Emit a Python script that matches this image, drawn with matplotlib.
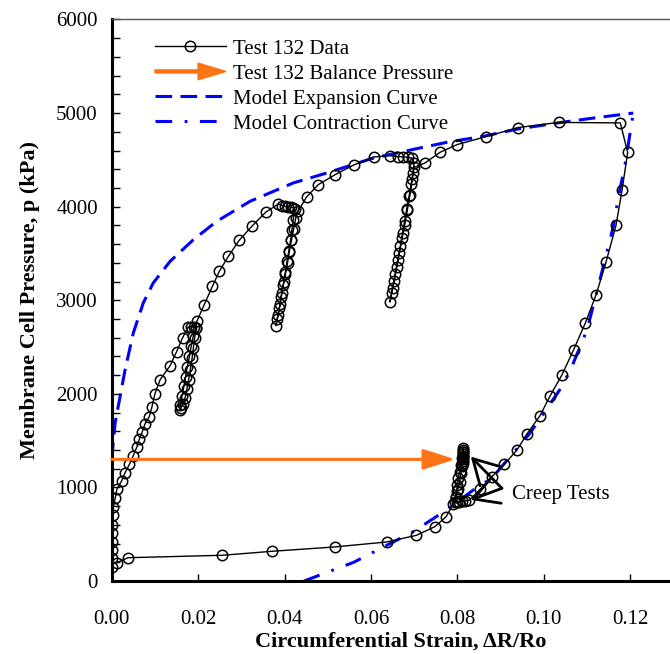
import matplotlib
matplotlib.use('Agg')
import matplotlib.pyplot as plt
from matplotlib.lines import Line2D
from matplotlib.patches import FancyArrow
from matplotlib.legend_handler import HandlerPatch
from matplotlib.ticker import MultipleLocator

# Test 132 membrane cell record, in the order it was logged
strain = [0.0000, 0.0000, 0.0000, 0.0000, 0.0001, 0.0001, 0.0002, 0.0004, 0.0008, 0.0012,
          0.0023, 0.0031, 0.0041, 0.0050, 0.0058, 0.0064, 0.0071, 0.0077, 0.0087, 0.0093,
          0.0100, 0.0112, 0.0135, 0.0150, 0.0164, 0.0177, 0.0183, 0.0190, 0.0195,
          0.0192, 0.0189, 0.0186, 0.0182, 0.0178, 0.0174, 0.0170, 0.0165, 0.0160, 0.0158,
          0.0159, 0.0163, 0.0167, 0.0171, 0.0175, 0.0180, 0.0184, 0.0189, 0.0194,
          0.0197, 0.0214, 0.0233, 0.0249, 0.0270, 0.0295, 0.0324, 0.0357,
          0.0386, 0.0395, 0.0402, 0.0409, 0.0415, 0.0420, 0.0424,
          0.0420, 0.0417, 0.0414, 0.0410, 0.0406, 0.0402, 0.0398, 0.0394, 0.0390, 0.0385, 0.0380,
          0.0383, 0.0388, 0.0392, 0.0397, 0.0402, 0.0407, 0.0411, 0.0416, 0.0421, 0.0426,
          0.0432, 0.0451, 0.0478, 0.0517, 0.0560, 0.0606, 0.0644,
          0.0662, 0.0674, 0.0685, 0.0695, 0.0700,
          0.0697, 0.0693, 0.0688, 0.0683, 0.0678, 0.0673, 0.0668, 0.0662, 0.0656, 0.0650, 0.0644,
          0.0648, 0.0654, 0.0660, 0.0666, 0.0672, 0.0678, 0.0684, 0.0690, 0.0696, 0.0700,
          0.0725, 0.0760, 0.0799, 0.0866, 0.0940, 0.1034, 0.1177,
          0.1194, 0.1181, 0.1167, 0.1144, 0.1121, 0.1096, 0.1069, 0.1042, 0.1015, 0.0991,
          0.0961, 0.0938, 0.0909, 0.0880, 0.0853, 0.0828,
          0.0818, 0.0810, 0.0803, 0.0798, 0.0795,
          0.0796, 0.0798, 0.0800, 0.0802, 0.0805, 0.0808, 0.0810, 0.0812, 0.0814,
          0.0814, 0.0814, 0.0813, 0.0813, 0.0813, 0.0812, 0.0812, 0.0812, 0.0811, 0.0811,
          0.0808, 0.0805, 0.0801, 0.0797, 0.0790,
          0.0774, 0.0748, 0.0705, 0.0636, 0.0516, 0.0372, 0.0256, 0.0038, 0.0012]
pressure = [153, 243, 332, 420, 510, 599, 706, 795, 884, 981,
            1070, 1158, 1248, 1340, 1430, 1515, 1597, 1679, 1757, 1858,
            2000, 2150, 2300, 2449, 2599, 2713, 2718, 2712, 2700,
            2600, 2490, 2380, 2260, 2150, 2050, 1960, 1890, 1850, 1830,
            1880, 1980, 2080, 2180, 2290, 2400, 2510, 2620, 2700,
            2773, 2952, 3148, 3308, 3470, 3640, 3789, 3943,
            4029, 4012, 4003, 3997, 3993, 3988, 3970,
            3860, 3750, 3640, 3530, 3420, 3300, 3190, 3080, 2960, 2840, 2727,
            2800, 2920, 3040, 3160, 3280, 3400, 3520, 3640, 3760, 3880,
            3957, 4104, 4235, 4342, 4445, 4531, 4545,
            4535, 4532, 4528, 4520, 4470,
            4360, 4240, 4110, 3980, 3850, 3720, 3580, 3430, 3280, 3130, 2981,
            3080, 3210, 3360, 3510, 3660, 3800, 3960, 4120, 4300, 4420,
            4467, 4581, 4663, 4748, 4845, 4900, 4895,
            4580, 4174, 3800, 3409, 3059, 2756, 2471, 2203, 1982, 1765,
            1572, 1401, 1248, 1116, 981, 866,
            855, 850, 848, 845, 843,
            900, 960, 1030, 1100, 1170, 1240, 1310, 1380, 1420,
            1400, 1380, 1360, 1340, 1320, 1300, 1280, 1260, 1240, 1225,
            1150, 1060, 980, 900, 820,
            688, 581, 488, 417, 364, 318, 275, 249, 196]

# model curves
exp_strain = [0.0000, 0.0008, 0.0031, 0.0050, 0.0073, 0.0096, 0.0135, 0.0189, 0.0243, 0.0320,
              0.0420, 0.0498, 0.0606, 0.0714, 0.0776, 0.0860, 0.0940, 0.1040, 0.1120, 0.1207]
exp_pressure = [1300, 1690, 2257, 2650, 2970, 3184, 3415, 3647, 3843, 4057,
                4253, 4360, 4520, 4628, 4688, 4752, 4830, 4900, 4950, 5000]

con_strain = [0.0445, 0.0560, 0.0698, 0.0775, 0.0837, 0.0880, 0.0968, 0.1042, 0.1065,
              0.1100, 0.1127, 0.1161, 0.1173, 0.1190, 0.1200, 0.1207]
con_pressure = [0, 200, 527, 760, 973, 1100, 1580, 2078, 2292,
                2684, 3166, 3790, 4110, 4500, 4800, 5000]

balance_pressure = 1300
balance_strain = 0.0795

# creep test pointers: tail, then the two tips
creep_text = (0.0926, 920)
creep_tail = (0.0903, 991)
creep_tips = [(0.0831, 1329), (0.0831, 866)]

ORANGE = '#ff7315'
BLUE = '#0000ff'


def make_arrow(legend, orig_handle, xdescent, ydescent, width, height, fontsize):
    return FancyArrow(-xdescent, height / 2 - ydescent, width, 0, width=2.2,
                      head_width=12, head_length=20, length_includes_head=True,
                      color=ORANGE, lw=0)


def main():
    plt.rcParams['font.family'] = 'Liberation Serif'
    plt.rcParams['lines.scale_dashes'] = False

    fig = plt.figure(figsize=(6.7, 6.54), dpi=100)
    ax = fig.add_axes([0.1667, 0.1116, 0.8333, 0.8586])

    ax.plot(exp_strain, exp_pressure, color=BLUE, lw=2.2, dashes=[12, 6], zorder=2)
    ax.plot(con_strain, con_pressure, color=BLUE, lw=2.2, dashes=[12, 9, 2, 9], zorder=2)
    ax.plot(strain, pressure, color='black', lw=1, marker='o', ms=7.5,
            mfc='none', mec='black', mew=1.1, zorder=3)

    ax.annotate('', xy=(balance_strain, balance_pressure), xytext=(0, balance_pressure),
                arrowprops=dict(arrowstyle='-|>,head_length=1.4,head_width=0.45',
                                color=ORANGE, lw=2.2, mutation_scale=14,
                                shrinkA=0, shrinkB=0), zorder=4)

    ax.text(creep_text[0], creep_text[1], 'Creep Tests', fontsize=15, va='center', ha='left')
    for tip in creep_tips:
        ax.annotate('', xy=tip, xytext=creep_tail,
                    arrowprops=dict(arrowstyle='->,head_length=0.8,head_width=0.45',
                                    color='black', lw=2, mutation_scale=22,
                                    shrinkA=0, shrinkB=0), zorder=5)

    ax.set_xlim(0, 0.1292)
    ax.set_ylim(0, 6000)
    ax.yaxis.set_major_locator(MultipleLocator(1000))
    ax.yaxis.set_minor_locator(MultipleLocator(200))
    ax.set_xticks([0, 0.02, 0.04, 0.06, 0.08, 0.10, 0.12])
    ax.set_xticklabels(['0.00', '0.02', '0.04', '0.06', '0.08', '0.10', '0.12'])
    ax.tick_params(axis='x', which='major', direction='in', length=5, width=1, pad=21,
                   labelsize=15, top=False)
    ax.tick_params(axis='y', which='both', direction='in', length=6, width=1, pad=10,
                   labelsize=15, right=False)

    ax.spines['right'].set_visible(False)
    ax.spines['top'].set_color('#555555')
    ax.spines['top'].set_linewidth(1)
    ax.spines['left'].set_linewidth(2.2)
    ax.spines['bottom'].set_linewidth(2.2)

    ax.set_xlabel('Circumferential Strain, \u0394R/Ro', fontsize=16, fontweight='bold')
    ax.set_ylabel('Membrane Cell Pressure, p (kPa)', fontsize=16, fontweight='bold')
    ax.xaxis.set_label_coords(0.518, -0.09)
    ax.yaxis.set_label_coords(-0.128, 0.5)

    handles = [
        Line2D([], [], color='black', lw=1, marker='o', ms=7.5, mfc='none', mew=1.1),
        FancyArrow(0, 0, 1, 0, color=ORANGE),
        Line2D([], [], color=BLUE, lw=2.2, dashes=[12, 6]),
        Line2D([], [], color=BLUE, lw=2.2, dashes=[12, 9, 2, 9]),
    ]
    labels = ['Test 132 Data', 'Test 132 Balance Pressure',
              'Model Expansion Curve', 'Model Contraction Curve']
    ax.legend(handles, labels, loc='upper left', bbox_to_anchor=(0.0776, 0.965),
              frameon=False, fontsize=15, handlelength=3.4, handletextpad=0.35,
              labelspacing=0.26, borderpad=0, borderaxespad=0,
              handler_map={FancyArrow: HandlerPatch(patch_func=make_arrow)})

    fig.savefig('out.png', dpi=100)


if __name__ == '__main__':
    main()
